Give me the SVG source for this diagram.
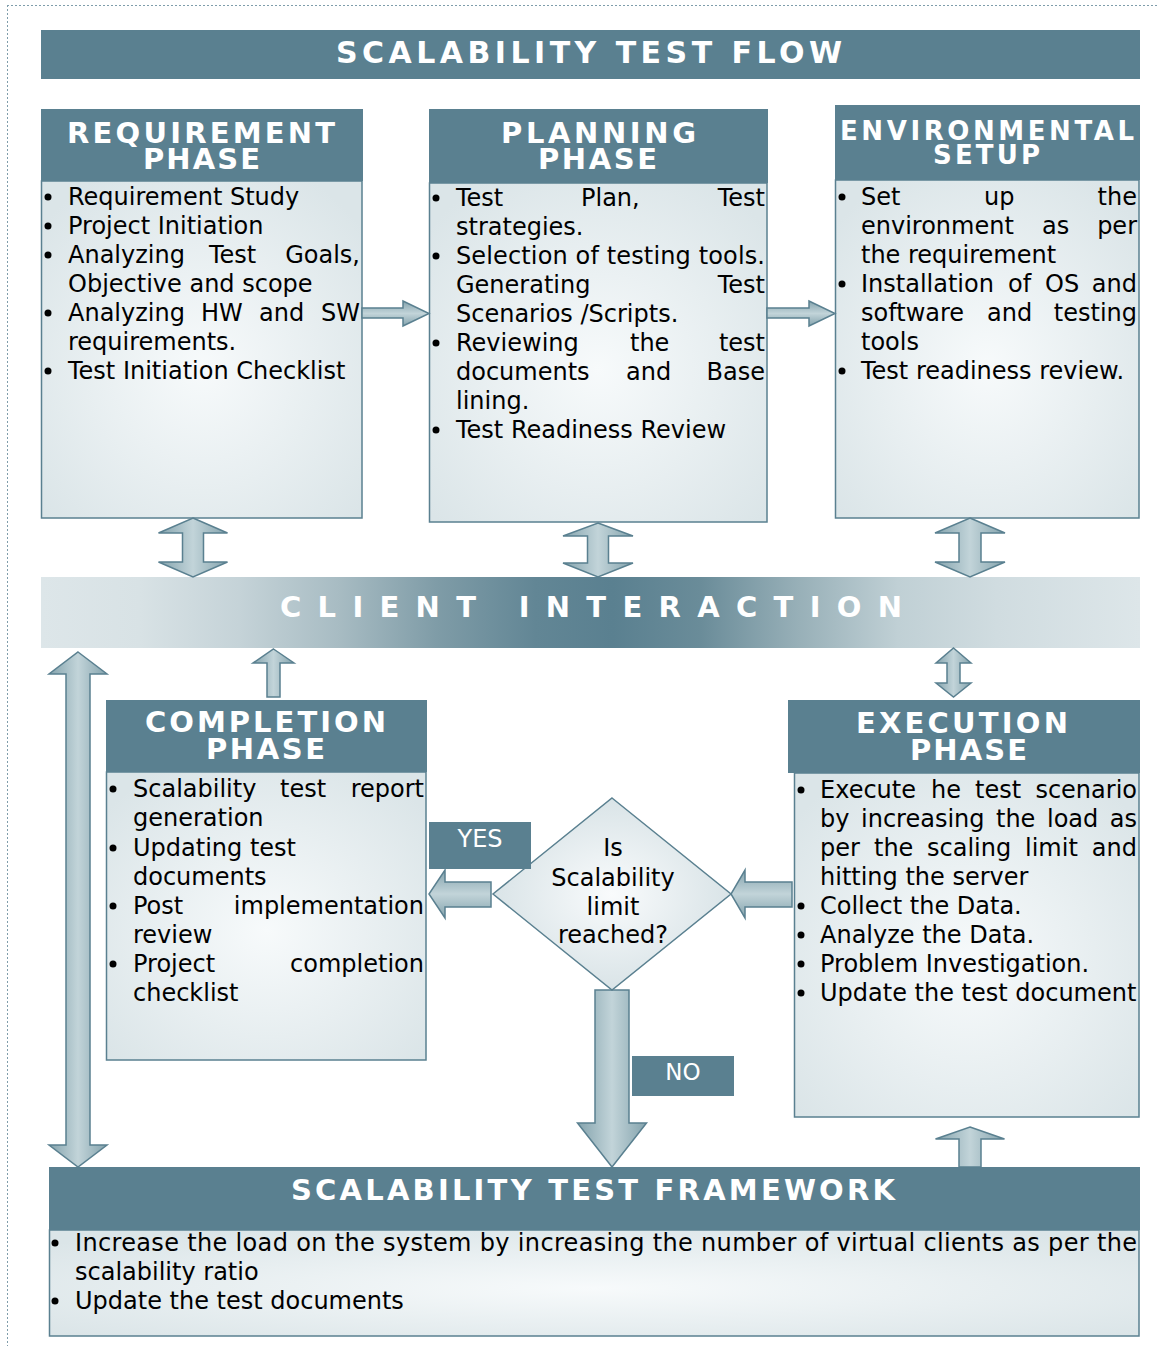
<svg xmlns="http://www.w3.org/2000/svg" width="1159" height="1346" viewBox="0 0 1159 1346">
<defs>
<radialGradient id="bodyG" cx="0.5" cy="0.55" r="0.65">
<stop offset="0" stop-color="#f7fafb"/>
<stop offset="1" stop-color="#dbe5e8"/>
</radialGradient>
<radialGradient id="diaG" cx="0.5" cy="0.5" r="0.6">
<stop offset="0" stop-color="#f9fbfc"/>
<stop offset="1" stop-color="#d3dfe3"/>
</radialGradient>
<linearGradient id="bandG" x1="0" y1="0" x2="1" y2="0">
<stop offset="0" stop-color="#dde6e9"/>
<stop offset="0.09" stop-color="#d8e2e5"/>
<stop offset="0.18" stop-color="#c5d3d8"/>
<stop offset="0.27" stop-color="#a8bcc3"/>
<stop offset="0.36" stop-color="#7f9ca7"/>
<stop offset="0.45" stop-color="#628695"/>
<stop offset="0.52" stop-color="#5a8090"/>
<stop offset="0.6" stop-color="#6a8c99"/>
<stop offset="0.69" stop-color="#98b0b8"/>
<stop offset="0.78" stop-color="#c0d0d5"/>
<stop offset="0.87" stop-color="#d0dce0"/>
<stop offset="1" stop-color="#dde6e9"/>
</linearGradient>
<linearGradient id="vArr" x1="0" y1="0" x2="1" y2="0">
<stop offset="0" stop-color="#84a3ad"/>
<stop offset="0.5" stop-color="#c2d4d9"/>
<stop offset="1" stop-color="#84a3ad"/>
</linearGradient>
<linearGradient id="hArr" x1="0" y1="0" x2="0" y2="1">
<stop offset="0" stop-color="#84a3ad"/>
<stop offset="0.5" stop-color="#c2d4d9"/>
<stop offset="1" stop-color="#84a3ad"/>
</linearGradient>
</defs>
<style>
.hdr{fill:#5a8090}
.body{fill:url(#bodyG);stroke:#5a8090;stroke-width:1.5}
.ht{font-family:"DejaVu Sans",Verdana,sans-serif;font-weight:bold;fill:#ffffff}
.t{font-family:"DejaVu Sans",Verdana,sans-serif;font-size:24px;fill:#000000}
.te{font-family:"DejaVu Sans",Verdana,sans-serif;font-size:24px;fill:#000000;text-anchor:end}
.tc{font-family:"DejaVu Sans",Verdana,sans-serif;font-size:24px;fill:#000000;text-anchor:middle}
.lbl{font-family:"DejaVu Sans",Verdana,sans-serif;fill:#ffffff;text-anchor:middle}
.va{fill:url(#vArr);stroke:#5a8090;stroke-width:1.5;stroke-linejoin:miter}
.ha{fill:url(#hArr);stroke:#5a8090;stroke-width:1.5;stroke-linejoin:miter}
.bul{fill:#000000}
.frame{stroke:#7f9dab;stroke-width:1;stroke-dasharray:2 2;fill:none}
</style>

<g id="frame">
<line class="frame" x1="7" y1="5.5" x2="1159" y2="5.5"/>
<line class="frame" x1="7.5" y1="5" x2="7.5" y2="1346"/>
</g>

<g id="title">
<rect class="hdr" x="41" y="30" width="1099" height="49"/>
<text class="ht" x="336" y="63" font-size="30" textLength="506" lengthAdjust="spacing">SCALABILITY TEST FLOW</text>
</g>

<g id="requirement-phase">
<rect class="body" x="41.5" y="181" width="320.5" height="337"/>
<rect class="hdr" x="41" y="109" width="322" height="72"/>
<text class="ht" x="67" y="143" font-size="29" textLength="268" lengthAdjust="spacing">REQUIREMENT</text>
<text class="ht" x="143" y="169" font-size="29" textLength="117" lengthAdjust="spacing">PHASE</text>
<circle class="bul" cx="48" cy="197" r="3.5"/><text class="t" x="68" y="205">Requirement Study</text>
<circle class="bul" cx="48" cy="226" r="3.5"/><text class="t" x="68" y="234">Project Initiation</text>
<circle class="bul" cx="48" cy="255" r="3.5"/><text class="t" x="68" y="263">Analyzing</text><text class="t" x="209" y="263">Test</text><text class="te" x="360" y="263">Goals,</text>
<text class="t" x="68" y="292">Objective and scope</text>
<circle class="bul" cx="48" cy="313" r="3.5"/><text class="t" x="68" y="321">Analyzing</text><text class="t" x="201" y="321">HW</text><text class="t" x="259" y="321">and</text><text class="te" x="360" y="321">SW</text>
<text class="t" x="68" y="350">requirements.</text>
<circle class="bul" cx="48" cy="371" r="3.5"/><text class="t" x="68" y="379">Test Initiation Checklist</text>
</g>

<g id="planning-phase">
<rect class="body" x="429.5" y="183" width="337.5" height="339"/>
<rect class="hdr" x="429" y="109" width="339" height="74"/>
<text class="ht" x="501" y="143" font-size="29" textLength="195" lengthAdjust="spacing">PLANNING</text>
<text class="ht" x="538" y="169" font-size="29" textLength="119" lengthAdjust="spacing">PHASE</text>
<circle class="bul" cx="436" cy="198" r="3.5"/><text class="t" x="456" y="206">Test</text><text class="t" x="581" y="206">Plan,</text><text class="te" x="765" y="206">Test</text>
<text class="t" x="456" y="235">strategies.</text>
<circle class="bul" cx="436" cy="256" r="3.5"/><text class="t" x="456" y="264" textLength="309" lengthAdjust="spacing">Selection of testing tools.</text>
<text class="t" x="456" y="293">Generating</text><text class="te" x="765" y="293">Test</text>
<text class="t" x="456" y="322">Scenarios /Scripts.</text>
<circle class="bul" cx="436" cy="343" r="3.5"/><text class="t" x="456" y="351">Reviewing</text><text class="t" x="630" y="351">the</text><text class="te" x="765" y="351">test</text>
<text class="t" x="456" y="380">documents</text><text class="t" x="626" y="380">and</text><text class="te" x="765" y="380">Base</text>
<text class="t" x="456" y="409">lining.</text>
<circle class="bul" cx="436" cy="430" r="3.5"/><text class="t" x="456" y="438">Test Readiness Review</text>
</g>

<g id="environmental-setup">
<rect class="body" x="835.5" y="180" width="303.5" height="338"/>
<rect class="hdr" x="835" y="105" width="305" height="75"/>
<text class="ht" x="840" y="140" font-size="26" textLength="294" lengthAdjust="spacing">ENVIRONMENTAL</text>
<text class="ht" x="933" y="164" font-size="26" textLength="107" lengthAdjust="spacing">SETUP</text>
<circle class="bul" cx="842" cy="197" r="3.5"/><text class="t" x="861" y="205">Set</text><text class="t" x="984" y="205">up</text><text class="te" x="1137" y="205">the</text>
<text class="t" x="861" y="234">environment</text><text class="t" x="1042" y="234">as</text><text class="te" x="1137" y="234">per</text>
<text class="t" x="861" y="263">the requirement</text>
<circle class="bul" cx="842" cy="284" r="3.5"/><text class="t" x="861" y="292">Installation</text><text class="t" x="1008" y="292">of</text><text class="t" x="1045" y="292">OS</text><text class="te" x="1137" y="292">and</text>
<text class="t" x="861" y="321">software</text><text class="t" x="987" y="321">and</text><text class="te" x="1137" y="321">testing</text>
<text class="t" x="861" y="350">tools</text>
<circle class="bul" cx="842" cy="371" r="3.5"/><text class="t" x="861" y="379">Test readiness review.</text>
</g>

<g id="client-interaction">
<rect x="41" y="577" width="1099" height="71" fill="url(#bandG)"/>
<text class="ht" x="280" y="617" font-size="29" textLength="622" lengthAdjust="spacing">CLIENT INTERACTION</text>
</g>

<g id="completion-phase">
<rect class="body" x="106.5" y="772" width="319.5" height="288"/>
<rect class="hdr" x="106" y="700" width="321" height="72"/>
<text class="ht" x="145" y="732" font-size="29" textLength="241" lengthAdjust="spacing">COMPLETION</text>
<text class="ht" x="206" y="759" font-size="29" textLength="119" lengthAdjust="spacing">PHASE</text>
<circle class="bul" cx="113" cy="789" r="3.5"/><text class="t" x="133" y="797">Scalability</text><text class="t" x="280" y="797">test</text><text class="te" x="424" y="797">report</text>
<text class="t" x="133" y="826">generation</text>
<circle class="bul" cx="113" cy="848" r="3.5"/><text class="t" x="133" y="856">Updating test</text>
<text class="t" x="133" y="885">documents</text>
<circle class="bul" cx="113" cy="906" r="3.5"/><text class="t" x="133" y="914">Post</text><text class="te" x="424" y="914">implementation</text>
<text class="t" x="133" y="943">review</text>
<circle class="bul" cx="113" cy="964" r="3.5"/><text class="t" x="133" y="972">Project</text><text class="te" x="424" y="972">completion</text>
<text class="t" x="133" y="1001">checklist</text>
</g>

<g id="execution-phase">
<rect class="body" x="794.5" y="773" width="344.5" height="344"/>
<rect class="hdr" x="788" y="700" width="352" height="73"/>
<text class="ht" x="856" y="733" font-size="29" textLength="212" lengthAdjust="spacing">EXECUTION</text>
<text class="ht" x="910" y="760" font-size="29" textLength="117" lengthAdjust="spacing">PHASE</text>
<circle class="bul" cx="801" cy="790" r="3.5"/><text class="t" x="820" y="798">Execute</text><text class="t" x="931" y="798">he</text><text class="t" x="975" y="798">test</text><text class="te" x="1137" y="798">scenario</text>
<text class="t" x="820" y="827">by</text><text class="t" x="861" y="827">increasing</text><text class="t" x="996" y="827">the</text><text class="t" x="1047" y="827">load</text><text class="te" x="1137" y="827">as</text>
<text class="t" x="820" y="856">per</text><text class="t" x="874" y="856">the</text><text class="t" x="927" y="856">scaling</text><text class="t" x="1025" y="856">limit</text><text class="te" x="1137" y="856">and</text>
<text class="t" x="820" y="885">hitting the server</text>
<circle class="bul" cx="801" cy="906" r="3.5"/><text class="t" x="820" y="914">Collect the Data.</text>
<circle class="bul" cx="801" cy="935" r="3.5"/><text class="t" x="820" y="943">Analyze the Data.</text>
<circle class="bul" cx="801" cy="964" r="3.5"/><text class="t" x="820" y="972">Problem Investigation.</text>
<circle class="bul" cx="801" cy="993" r="3.5"/><text class="t" x="820" y="1001">Update the test document</text>
</g>

<g id="framework">
<rect class="body" x="49.5" y="1230" width="1089.5" height="106"/>
<rect class="hdr" x="49" y="1167" width="1091" height="63"/>
<text class="ht" x="291" y="1200" font-size="29" textLength="604" lengthAdjust="spacing">SCALABILITY TEST FRAMEWORK</text>
<circle class="bul" cx="55" cy="1243" r="3.5"/><text class="t" x="75" y="1251" textLength="1062" lengthAdjust="spacing">Increase the load on the system by increasing the number of virtual clients as per the</text>
<text class="t" x="75" y="1280">scalability ratio</text>
<circle class="bul" cx="55" cy="1301" r="3.5"/><text class="t" x="75" y="1309">Update the test documents</text>
</g>

<g id="connectors">
<path class="ha" d="M362,308 L403,308 L403,301 L429,313.5 L403,326 L403,318 L362,318 Z"/>
<path class="ha" d="M767,308 L809,308 L809,301 L835,313.5 L809,326 L809,318 L767,318 Z"/>
<path class="va" d="M193,518 L227.5,533 L203.5,533 L203.5,562 L227.5,562 L193,577 L158.5,562 L182.5,562 L182.5,533 L158.5,533 Z"/>
<path class="va" d="M598,523 L633,536 L608.5,536 L608.5,563 L633,563 L598,577 L563,563 L587.5,563 L587.5,536 L563,536 Z"/>
<path class="va" d="M970,518 L1005,533 L981,533 L981,562 L1005,562 L970,577 L935,562 L959,562 L959,533 L935,533 Z"/>
<path class="va" d="M953.5,648 L971,663 L960,663 L960,683 L971,683 L953.5,697 L936,683 L947,683 L947,663 L936,663 Z"/>
<path class="va" d="M78,652 L107,674 L90,674 L90,1145 L107,1145 L78,1167 L49,1145 L66,1145 L66,674 L49,674 Z"/>
<path class="va" d="M273.5,649 L294,663 L280,663 L280,697 L267,697 L267,663 L253,663 Z"/>
<path class="va" d="M970,1127 L1004.5,1139 L981,1139 L981,1167 L959,1167 L959,1139 L935.5,1139 Z"/>
<path class="va" d="M595,990 L629,990 L629,1123 L646.5,1123 L612,1167 L577.5,1123 L595,1123 Z"/>
<path class="ha" d="M491,882 L445,882 L445,870 L429,894 L445,918 L445,907 L491,907 Z"/>
<path class="ha" d="M792,882 L745,882 L745,870 L731,894 L745,918 L745,907 L792,907 Z"/>
</g>

<g id="decision">
<polygon points="612,798 731,894 612,990 493,894" fill="url(#diaG)" stroke="#5a8090" stroke-width="1.5"/>
<text class="tc" x="613" y="856">Is</text>
<text class="tc" x="613" y="886">Scalability</text>
<text class="tc" x="613" y="915">limit</text>
<text class="tc" x="613" y="943">reached?</text>
</g>

<g id="yes-label">
<rect class="hdr" x="429" y="822" width="102" height="47"/>
<text class="lbl" x="480" y="847" font-size="24">YES</text>
</g>

<g id="no-label">
<rect class="hdr" x="632" y="1056" width="102" height="40"/>
<text class="lbl" x="683" y="1080" font-size="23">NO</text>
</g>
</svg>
